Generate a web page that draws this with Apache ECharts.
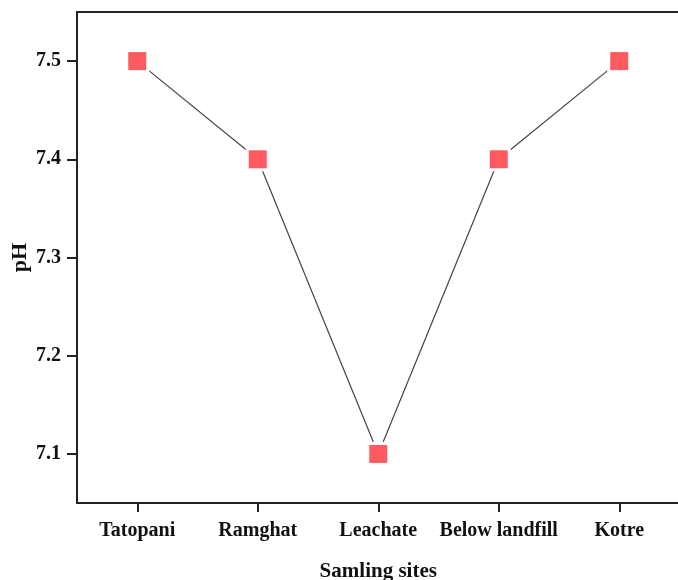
<!DOCTYPE html>
<html>
<head>
<meta charset="utf-8">
<script src="https://cdn.jsdelivr.net/npm/echarts@6/dist/echarts.min.js"></script>
<style>html,body{margin:0;padding:0;background:#fff;}#c{width:678px;height:580px;}</style>
</head>
<body>
<div id="c"></div>
<script>
const categories = ['Tatopani', 'Ramghat', 'Leachate', 'Below landfill', 'Kotre'];
const phValues = [7.5, 7.4, 7.1, 7.4, 7.5];
const yTicks = [7.1, 7.2, 7.3, 7.4, 7.5];

const chart = echarts.init(document.getElementById('c'));
const font = '"Liberation Serif", "Times New Roman", serif';
chart.setOption({
  animation: false,
  grid: { left: 77, top: 12, width: 602.5, height: 491, show: false, containLabel: false, outerBoundsMode: 'none' },
  xAxis: [{
    type: 'category',
    data: categories,
    boundaryGap: true,
    name: 'Samling sites',
    nameLocation: 'middle',
    nameGap: 58,
    nameMoveOverlap: false,
    nameTextStyle: { fontFamily: font, fontWeight: 'bold', fontSize: 21, color: '#111' },
    axisLine: { lineStyle: { color: '#222', width: 2 } },
    axisTick: { show: true, inside: false, length: 9, alignWithLabel: true, lineStyle: { color: '#222', width: 2 } },
    axisLabel: { margin: 18, fontFamily: font, fontWeight: 'bold', fontSize: 20, color: '#111', interval: 0 },
    splitLine: { show: false }
  }, {
    type: 'category',
    data: categories,
    position: 'top',
    axisLine: { show: true, lineStyle: { color: '#222', width: 2 } },
    axisTick: { show: false },
    axisLabel: { show: false },
    splitLine: { show: false }
  }],
  yAxis: {
    type: 'value',
    min: 7.05,
    max: 7.55,
    name: 'pH',
    nameLocation: 'middle',
    nameGap: 46,
    nameMoveOverlap: false,
    nameRotate: 90,
    nameTextStyle: { fontFamily: font, fontWeight: 'bold', fontSize: 22, color: '#111' },
    axisLine: { show: true, lineStyle: { color: '#222', width: 2 } },
    axisTick: { show: true, length: 10, customValues: yTicks, lineStyle: { color: '#222', width: 2 } },
    axisLabel: { margin: 16, customValues: yTicks, fontFamily: font, fontWeight: 'bold', fontSize: 20, color: '#111', formatter: v => v.toFixed(1) },
    splitLine: { show: false }
  },
  series: [
    {
      type: 'line',
      data: phValues,
      symbol: 'rect',
      symbolSize: 24,
      itemStyle: { color: '#fff', borderWidth: 0 },
      lineStyle: { color: '#444', width: 1.2 },
      z: 2
    },
    {
      type: 'scatter',
      data: phValues,
      symbol: 'rect',
      symbolSize: 18,
      itemStyle: { color: '#ff5a5f', opacity: 1 },
      z: 3
    }
  ]
});
</script>
</body>
</html>
